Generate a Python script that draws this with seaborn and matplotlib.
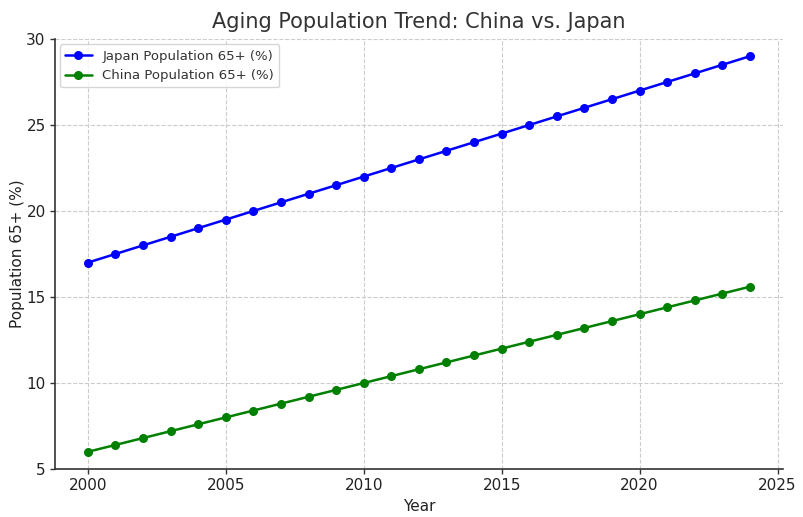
import matplotlib
matplotlib.use("Agg")
import matplotlib.pyplot as plt
import seaborn as sns
import pandas as pd

years = [2000, 2001, 2002, 2003, 2004, 2005, 2006, 2007, 2008, 2009, 2010, 2011,
         2012, 2013, 2014, 2015, 2016, 2017, 2018, 2019, 2020, 2021, 2022, 2023, 2024]
japan = [17.0, 17.5, 18.0, 18.5, 19.0, 19.5, 20.0, 20.5, 21.0, 21.5, 22.0, 22.5,
         23.0, 23.5, 24.0, 24.5, 25.0, 25.5, 26.0, 26.5, 27.0, 27.5, 28.0, 28.5, 29.0]
china = [6.0, 6.4, 6.8, 7.2, 7.6, 8.0, 8.4, 8.8, 9.2, 9.6, 10.0, 10.4,
         10.8, 11.2, 11.6, 12.0, 12.4, 12.8, 13.2, 13.6, 14.0, 14.4, 14.8, 15.2, 15.6]

df = pd.DataFrame({"Year": years, "Japan": japan, "China": china})

sns.set_style("white")
plt.rcParams['font.family'] = ['DejaVu Sans']

fig = plt.figure(figsize=(8.04, 5.17), dpi=100)
ax = fig.add_axes([0.068, 0.0928, 0.906, 0.8318])

sns.lineplot(data=df, x="Year", y="Japan", ax=ax, color="blue", marker="o",
             markersize=6.5, markeredgewidth=0, linewidth=1.8, label="Japan Population 65+ (%)")
sns.lineplot(data=df, x="Year", y="China", ax=ax, color="green", marker="o",
             markersize=6.5, markeredgewidth=0, linewidth=1.8, label="China Population 65+ (%)")

ax.set_ylim(5, 30)
ax.set_xlim(1998.8, 2025.2)
ax.set_xticks([2000, 2005, 2010, 2015, 2020, 2025])
ax.set_yticks([5, 10, 15, 20, 25, 30])
ax.grid(True, linestyle="--", color="#cccccc", linewidth=0.8)
for s in ["top", "right"]:
    ax.spines[s].set_visible(False)
for s in ["left", "bottom"]:
    ax.spines[s].set_color("#333333")
    ax.spines[s].set_linewidth(1.2)
ax.tick_params(axis="both", labelsize=11, colors="#333333", length=3.5, width=1,
               pad=3, direction="out", bottom=True, left=True)
for lab in ax.get_xticklabels() + ax.get_yticklabels():
    lab.set_color("#222222")

ax.set_title("Aging Population Trend: China vs. Japan", fontsize=15, color="#333333", pad=8)
ax.set_xlabel("Year", fontsize=11, color="#222222", labelpad=4)
ax.set_ylabel("Population 65+ (%)", fontsize=11, color="#222222", labelpad=1)
ax.legend(loc="upper left", fontsize=9.5, frameon=True, edgecolor="#cccccc",
          labelcolor="#333333", borderaxespad=0.4)

fig.savefig("out.png", dpi=100)
